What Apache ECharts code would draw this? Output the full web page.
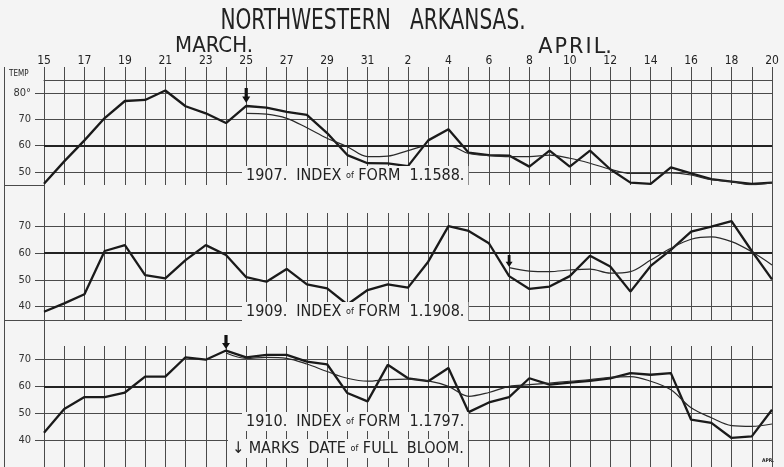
<!DOCTYPE html>
<html><head><meta charset="utf-8">
<script src="https://cdn.jsdelivr.net/npm/echarts@6/dist/echarts.min.js"></script>
<style>html,body{margin:0;padding:0;background:#f4f4f4}#c{width:784px;height:467px}</style>
</head><body><div id="c"></div><script>
// ---- categories: daily, March 15 .. April 20 ----
const days = ['Mar 15','Mar 16','Mar 17','Mar 18','Mar 19','Mar 20','Mar 21','Mar 22','Mar 23','Mar 24','Mar 25','Mar 26','Mar 27','Mar 28','Mar 29','Mar 30','Mar 31',
  'Apr 1','Apr 2','Apr 3','Apr 4','Apr 5','Apr 6','Apr 7','Apr 8','Apr 9','Apr 10','Apr 11','Apr 12','Apr 13','Apr 14','Apr 15','Apr 16','Apr 17','Apr 18','Apr 19','Apr 20'];

// ---- 1907 observed temperature and smoothed curve (from bloom, Mar 25) ----
const t1907 = [45.5,54,62,70.5,77,77.4,81,75,72.3,68.6,75.1,74.5,72.9,71.7,64.8,56.4,53.3,
  53.2,52.2,62,66.2,57.3,56.4,56.2,52,58.1,52,58.1,51,45.9,45.4,51.7,49.4,47.2,46.3,45.4,45.9];
const s1907 = [null,null,null,null,null,null,null,null,null,null,72.3,72,70.4,66.8,62.8,59.6,55.8,
  56,58.1,60,60,57,56.2,55.8,55.8,56.4,55.2,53.3,51,49.4,49.4,49.6,48.8,47,46.3,45.1,45.9];

// ---- 1909 (bloom Apr 7) ----
const t1909 = [38.1,41.2,44.6,60.8,63,51.8,50.6,57.4,63,59.3,51,49.3,54.1,48.3,46.8,40.8,46.2,
  48.3,47.1,56.8,70.1,68.3,63.7,51.4,46.6,47.5,51.4,59,55,45.6,55.2,61.2,68,69.9,72,60.8,50.2];
const s1909 = [null,null,null,null,null,null,null,null,null,null,null,null,null,null,null,null,null,
  null,null,null,null,null,null,54.6,53.3,53.1,53.7,54,52.5,53.1,57.4,61.8,65.2,66.1,64.3,60.5,55.6];

// ---- 1910 (bloom Mar 24) ----
const t1910 = [42.7,51.6,56,56,57.7,63.6,63.6,70.8,69.9,73.3,70.8,71.7,71.7,69.2,68.2,57.5,54.4,
  68,63,61.9,66.8,50.4,54,56,63,60.6,61.4,62,63,64.9,64.3,64.9,47.6,46.4,40.8,41.4,51.3];
const s1910 = [null,null,null,null,null,null,null,null,null,72.4,70.4,70.8,70.4,68.3,65.5,63,61.9,
  62.5,62.7,62,60,56.3,57.7,60,60.6,61.2,61.9,62.5,63.3,63.6,61.9,58.7,52,48.3,45.4,45.1,46];

const bloomIdx = [10, 23, 9];
const yLabels1 = [50,60,70,80];
const yLabels = [40,50,60,70];

const BG = '#f4f4f4', INK = '#222', GRID = '#4a4a4a';
const FONT = '"DejaVu Sans Condensed","DejaVu Sans",sans-serif';
const arrow = 'path://M3,0H7V9H10L5,16L0,9H3Z';

const grids = [
  {left:44, right:12, top:80, height:105},
  {left:44, right:12, top:213, height:107},
  {left:44, right:12, top:346, height:121}
];
const yr = [[45,85],[35,75],[30,75]];

function xAxis(i){
  return {
    type:'category', gridIndex:i, data:days, boundaryGap:false,
    position: i===0 ? 'top' : 'bottom',
    axisLine:{show:true, lineStyle:{color:GRID, width:1}},
    axisTick:{show:i===0, interval:0, length:13, lineStyle:{color:GRID}},
    axisLabel:{show:i===0, interval:1, margin:13, fontSize:12, color:INK, fontFamily:FONT,
      formatter:v=>v.split(' ')[1]},
    splitLine:{show:true, interval:0, lineStyle:{color:GRID, width:1}}
  };
}
function yAxis(i){
  const labs = i===0 ? yLabels1 : yLabels;
  return {
    type:'value', gridIndex:i, min:yr[i][0], max:yr[i][1], interval:5,
    axisLine:{show:true, lineStyle:{color:GRID}},
    axisTick:{show:true, customValues:labs, length:9, lineStyle:{color:GRID}},
    axisLabel:{show:true, customValues:labs, margin:13, fontSize:11, color:'#333', fontFamily:FONT,
      formatter:v=> v===80 ? '80°' : String(v)},
    splitLine:{show:true, lineStyle:{color:GRID, width:1}}
  };
}
const line60 = {silent:true, symbol:'none', label:{show:false},
  lineStyle:{color:'#222', width:2, type:'solid'}, data:[{yAxis:60}]};

function pair(i, thick, thin, arrowVal, arrowSize, arrowOff){
  return [
    {type:'line', xAxisIndex:i, yAxisIndex:i, data:thick, symbol:'none',
      lineStyle:{color:'#1a1a1a', width:2.3}, markLine:line60, z:3},
    {type:'line', xAxisIndex:i, yAxisIndex:i, data:thin, symbol:'none', smooth:0.35,
      lineStyle:{color:'#2a2a2a', width:1.2}, z:3,
      markPoint:{symbol:arrow, symbolSize:arrowSize, symbolOffset:[0,arrowOff], silent:true,
        itemStyle:{color:'#111'}, label:{show:false},
        data:[{coord:[bloomIdx[i], arrowVal]}]}}
  ];
}

const cap = (text, left, top) => ({
  text, left, top, padding:[1,4,1,4], backgroundColor:BG,
  textStyle:{fontFamily:FONT, fontSize:16, fontWeight:'normal', color:INK, lineHeight:17,
    rich:{s:{fontFamily:FONT, fontSize:9, color:INK, lineHeight:17}}}
});
const big = (text, x, y, size, sx) => ({
  type:'text', x, y, scaleX:sx, silent:true, z:10,
  style:{text, font:'normal '+size+'px '+FONT, fill:INK, align:'center', verticalAlign:'middle'}
});

const option = {
  animation:false,
  backgroundColor:BG,
  title:[
    {text:'TEMP', left:9, top:70, padding:0, textStyle:{fontFamily:FONT, fontSize:8, fontWeight:'normal', color:INK}},
    {text:'APR.', left:762, top:458, padding:0, textStyle:{fontFamily:FONT, fontSize:5, fontWeight:'bold', color:INK}},
    cap('1907.  INDEX {s|of} FORM  1.1588.', 242, 166),
    cap('1909.  INDEX {s|of} FORM  1.1908.', 242, 302),
    cap('1910.  INDEX {s|of} FORM  1.1797.', 242, 412),
    cap('↓ MARKS  DATE {s|of} FULL  BLOOM.', 228, 439)
  ],
  grid:grids,
  xAxis:[xAxis(0), xAxis(1), xAxis(2)],
  yAxis:[yAxis(0), yAxis(1), yAxis(2)],
  series:[
    ...pair(0, t1907, s1907, t1907[10], [8,15], -10.5),
    ...pair(1, t1909, s1909, s1909[23], [7,12], -6.5),
    ...pair(2, t1910, s1910, t1910[9], [8,14], -8.5)
  ],
  graphic:[
    big('NORTHWESTERN   ARKANSAS.', 373, 22, 28, 0.8),
    big('MARCH.', 214, 46, 22, 1),
    big('A\u200aP\u200aR\u200aI\u200aL.', 575, 47, 22, 1.05),
    {type:'line', shape:{x1:4.5,y1:67,x2:4.5,y2:467}, style:{stroke:GRID, lineWidth:1}, silent:true},
    {type:'line', shape:{x1:4,y1:185.5,x2:44,y2:185.5}, style:{stroke:GRID, lineWidth:1}, silent:true},
    {type:'line', shape:{x1:4,y1:320.5,x2:44,y2:320.5}, style:{stroke:GRID, lineWidth:1}, silent:true},
    {type:'line', shape:{x1:44.5,y1:185,x2:44.5,y2:213}, style:{stroke:GRID, lineWidth:1}, silent:true},
    {type:'line', shape:{x1:44.5,y1:320,x2:44.5,y2:346}, style:{stroke:GRID, lineWidth:1}, silent:true},
    {type:'line', shape:{x1:772.5,y1:185,x2:772.5,y2:213}, style:{stroke:GRID, lineWidth:1}, silent:true},
    {type:'line', shape:{x1:772.5,y1:320,x2:772.5,y2:346}, style:{stroke:GRID, lineWidth:1}, silent:true}
  ]
};
const chart = echarts.init(document.getElementById('c'), null, {renderer:'canvas'});
chart.setOption(option);
</script></body></html>
